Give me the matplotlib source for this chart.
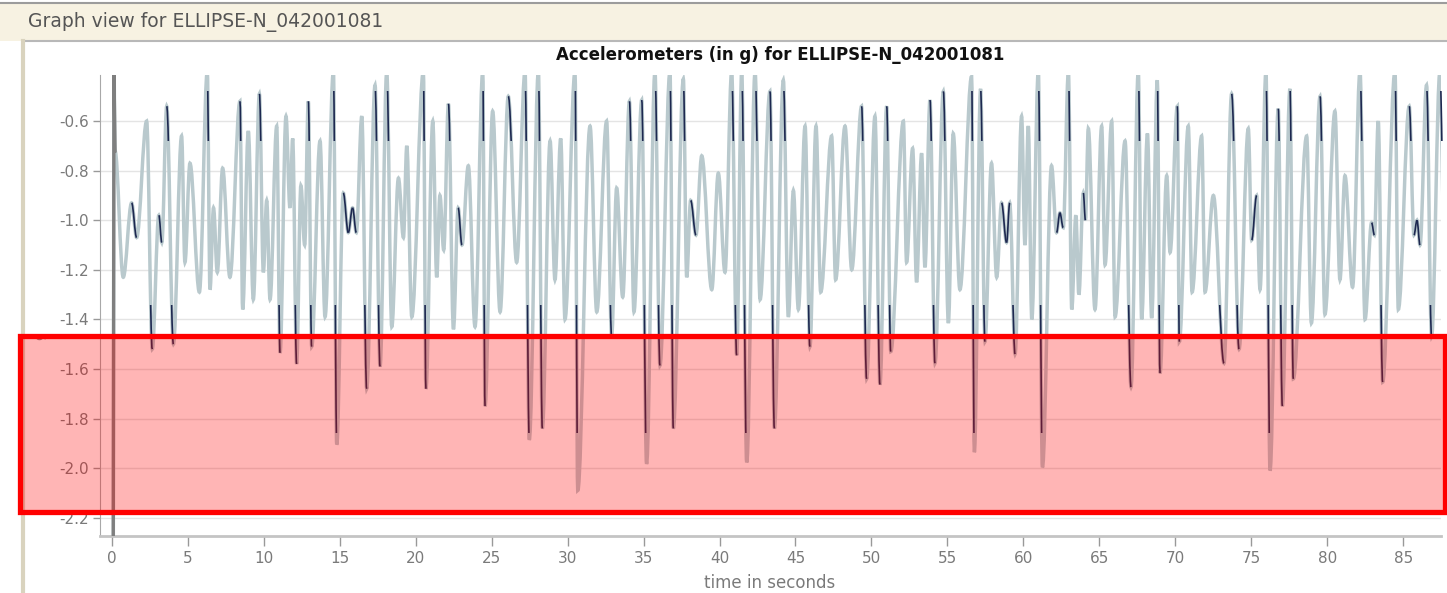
import matplotlib
matplotlib.use("Agg")
import matplotlib.pyplot as plt
from matplotlib.patches import Rectangle, PathPatch
from matplotlib.lines import Line2D
from matplotlib.path import Path

# turning points of the accelerometer trace
times = [0.10, 0.15, 0.22, 0.76, 1.31, 1.64, 2.30, 2.67, 3.10, 3.30,
         3.62, 4.06, 4.60, 4.82, 5.15, 5.77, 6.29, 6.47, 6.70, 6.95,
         7.30, 7.78, 8.44, 8.62, 8.99, 9.32, 9.72, 9.98, 10.20, 10.42,
         10.86, 11.08, 11.47, 11.73, 11.91, 12.17, 12.45, 12.70, 12.94, 13.16,
         13.71, 14.04, 14.59, 14.81, 15.24, 15.57, 15.85, 16.10, 16.46, 16.78,
         17.33, 17.66, 18.10, 18.43, 18.87, 19.20, 19.42, 19.75, 20.51, 20.68,
         21.13, 21.39, 21.60, 21.85, 22.16, 22.49, 22.80, 23.05, 23.47, 23.91,
         24.42, 24.57, 25.07, 25.56, 26.10, 26.65, 27.20, 27.48, 28.08, 28.34,
         28.85, 29.17, 29.55, 29.83, 30.49, 30.67, 31.48, 31.92, 32.57, 32.90,
         33.23, 33.63, 34.07, 34.37, 34.88, 35.20, 35.75, 36.08, 36.74, 36.96,
         37.62, 37.84, 38.10, 38.45, 38.83, 39.49, 39.92, 40.36, 40.80, 41.13,
         41.46, 41.79, 42.34, 42.67, 43.32, 43.61, 44.20, 44.53, 44.86, 45.19,
         45.63, 45.95, 46.35, 46.66, 47.38, 47.64, 48.26, 48.70, 49.35, 49.68,
         50.23, 50.56, 51.00, 51.27, 52.10, 52.31, 52.71, 52.97, 53.30, 53.52,
         53.85, 54.18, 54.73, 55.06, 55.38, 55.82, 56.59, 56.77, 57.18, 57.47,
         57.90, 58.24, 58.56, 58.89, 59.10, 59.45, 59.88, 60.10, 60.32, 60.55,
         60.98, 61.25, 61.85, 62.18, 62.40, 62.62, 62.96, 63.18, 63.45, 63.65,
         63.94, 64.08, 64.27, 64.71, 65.15, 65.37, 65.81, 66.03, 66.69, 67.08,
         67.56, 67.78, 68.16, 68.44, 68.81, 68.99, 69.43, 69.65, 70.13, 70.26,
         70.85, 71.10, 71.73, 71.95, 72.50, 73.20, 73.70, 74.19, 74.80, 75.02,
         75.35, 75.57, 75.96, 76.23, 76.77, 77.04, 77.54, 77.76, 78.64, 78.95,
         79.52, 79.84, 80.50, 80.83, 81.16, 81.66, 82.15, 82.48, 82.91, 83.10,
         83.35, 83.64, 84.45, 84.67, 85.39, 85.70, 85.90, 86.10, 86.53, 86.86,
         87.41, 87.70]
accel_g = [-2.40, -0.40, -0.72, -1.23, -0.93, -1.07, -0.60, -1.52, -0.98, -1.09,
           -0.54, -1.50, -0.66, -1.17, -0.77, -1.29, -0.40, -1.28, -0.95, -1.21,
           -0.79, -1.23, -0.52, -1.36, -0.64, -1.32, -0.49, -1.21, -0.92, -1.32,
           -0.62, -1.535, -0.58, -0.95, -0.67, -1.58, -0.86, -1.10, -0.52, -1.51,
           -0.68, -1.39, -0.40, -1.905, -0.89, -1.05, -0.95, -1.05, -0.58, -1.68,
           -0.455, -1.59, -0.40, -1.43, -0.83, -1.07, -0.70, -1.39, -0.40, -1.68,
           -0.60, -1.23, -0.90, -1.12, -0.53, -1.44, -0.95, -1.10, -0.78, -1.43,
           -0.40, -1.75, -0.56, -1.37, -0.50, -1.17, -0.40, -1.886, -0.40, -1.84,
           -0.68, -1.24, -0.67, -1.40, -0.40, -2.09, -0.62, -1.37, -0.60, -1.47,
           -0.87, -1.31, -0.52, -1.37, -0.515, -1.983, -0.40, -1.586, -0.40, -1.84,
           -0.43, -1.23, -0.92, -1.06, -0.74, -1.28, -0.81, -1.21, -0.40, -1.545,
           -0.40, -1.977, -0.40, -1.32, -0.48, -1.84, -0.435, -1.39, -0.88, -1.36,
           -0.62, -1.51, -0.62, -1.29, -0.66, -1.24, -0.62, -1.20, -0.54, -1.64,
           -0.58, -1.663, -0.54, -1.53, -0.60, -1.17, -0.71, -1.25, -0.73, -1.19,
           -0.515, -1.577, -0.48, -1.415, -0.65, -1.28, -0.42, -1.936, -0.47, -1.49,
           -0.77, -1.23, -0.93, -1.09, -0.93, -1.54, -0.58, -1.10, -0.62, -1.40,
           -0.40, -1.997, -0.78, -1.05, -0.97, -1.03, -0.40, -1.36, -0.98, -1.30,
           -0.89, -1.00, -0.63, -1.36, -0.62, -1.18, -0.60, -1.39, -0.68, -1.673,
           -0.40, -1.40, -0.65, -1.395, -0.435, -1.617, -0.82, -1.13, -0.54, -1.49,
           -0.62, -1.29, -0.66, -1.29, -0.90, -1.577, -0.49, -1.52, -0.63, -1.08,
           -0.90, -1.28, -0.40, -2.01, -0.55, -1.75, -0.47, -1.64, -0.66, -1.415,
           -0.50, -1.38, -0.56, -1.24, -0.82, -1.27, -0.40, -1.40, -1.01, -1.06,
           -0.60, -1.653, -0.40, -1.36, -0.54, -1.06, -1.00, -1.10, -0.455, -1.47,
           -0.40, -1.10]

yticks = [-2.2, -2.0, -1.8, -1.6, -1.4, -1.2, -1.0, -0.8, -0.6]
xticks = list(range(0, 90, 5))

W, H = 1447, 593
LIGHT = '#b9c9cd'
DARK = '#1d2850'


def fx(px):
    return px / W


def fy(py):
    return 1 - py / H


def smooth_path(ts, vs, k=0.36):
    # curve through the turning points, flat at each peak / dip
    verts = [(ts[0], vs[0])]
    codes = [Path.MOVETO]
    for a in range(len(ts) - 1):
        d = ts[a + 1] - ts[a]
        verts += [(ts[a] + k * d, vs[a]), (ts[a + 1] - k * d, vs[a + 1]), (ts[a + 1], vs[a + 1])]
        codes += [Path.CURVE4] * 3
    return Path(verts, codes)


fig = plt.figure(figsize=(W / 100, H / 100), dpi=100)
fig.patch.set_facecolor('white')

# window chrome
fig.add_artist(Rectangle((0, fy(41)), 1, fy(3) - fy(41), transform=fig.transFigure,
                         facecolor='#f7f2e2', edgecolor='none', zorder=0))
fig.add_artist(Line2D([0, 1], [fy(3), fy(3)], transform=fig.transFigure,
                      color='#9c9c9c', lw=1.5, zorder=1))
fig.add_artist(Line2D([fx(23), 1], [fy(41), fy(41)], transform=fig.transFigure,
                      color='#b8b8b8', lw=1.5, zorder=1))
fig.add_artist(Line2D([fx(23), fx(23)], [0, fy(41)], transform=fig.transFigure,
                      color='#d9d3be', lw=3, zorder=1))
fig.text(fx(28), fy(22), 'Graph view for ELLIPSE-N_042001081', ha='left', va='center',
         color='#555555', fontsize=13.5)

ax = fig.add_axes([fx(100), fy(536), fx(1441) - fx(100), fy(75) - fy(536)])
ax.add_patch(PathPatch(smooth_path(times, accel_g), fill=False, edgecolor=LIGHT,
                       lw=2.5, zorder=2))
ax.plot(times[:3], accel_g[:3], color='#7f7f7f', lw=2.4, zorder=3)

# darker pieces of the trace: one side of the deep dips, the top of some peaks,
# and the small wiggles around -1 g
low_band = Rectangle((-5, -1.86), 100, 0.52, transform=ax.transData)
high_band = Rectangle((-5, -0.68), 100, 0.20, transform=ax.transData)
for i in range(3, len(times) - 1):
    piece, band = None, None
    if accel_g[i] < -1.45:
        piece, band = (i - 1, i + 1), low_band
    elif accel_g[i] > -0.56 and i % 2 == 0:
        piece, band = (i, i + 2), high_band
    elif abs(accel_g[i] - accel_g[i + 1]) < 0.2:
        piece = (i, i + 2)
    if piece is None:
        continue
    a, b = piece
    p = PathPatch(smooth_path(times[a:b], accel_g[a:b]), fill=False,
                  edgecolor=DARK, lw=1.2, zorder=3)
    ax.add_patch(p)
    if band is not None:
        p.set_clip_path(band)

ax.set_xlim(-0.77, 87.48)
ax.set_ylim(-2.274, -0.414)
ax.set_yticks(yticks)
ax.set_yticklabels([f'{v:.1f}' for v in yticks])
ax.set_xticks(xticks)
ax.yaxis.grid(True, color='#e4e4e4', lw=1)
ax.set_axisbelow(True)
for s in ['top', 'right']:
    ax.spines[s].set_visible(False)
ax.spines['left'].set_color('#a8a8a8')
ax.spines['bottom'].set_color('#c4c4c4')
ax.spines['bottom'].set_linewidth(2)
ax.tick_params(axis='y', colors='#999999', labelcolor='#7a7a7a', labelsize=11,
               length=5, width=1, pad=3)
ax.tick_params(axis='x', colors='#999999', labelcolor='#7a7a7a', labelsize=11,
               length=7, width=1, pad=4)

fig.text(fx(780), fy(55), 'Accelerometers (in g) for ELLIPSE-N_042001081', ha='center',
         va='center', fontweight='bold', fontsize=12, color='#111111')
fig.text(fx(770), fy(583), 'time in seconds', ha='center', va='center', color='#7a7a7a',
         fontsize=12)
fig.text(fx(40), fy(336), 'g', ha='center', va='center', color='#8a8a8a', fontsize=9,
         rotation=90)

# highlighted band
fig.add_artist(Rectangle((fx(20), fy(511.5)), fx(1445) - fx(20), fy(335.5) - fy(511.5),
                         transform=fig.transFigure, facecolor=(1, 0, 0, 0.29),
                         edgecolor='#ff0000', lw=3.8, zorder=10))

fig.savefig('out.png', dpi=100)
